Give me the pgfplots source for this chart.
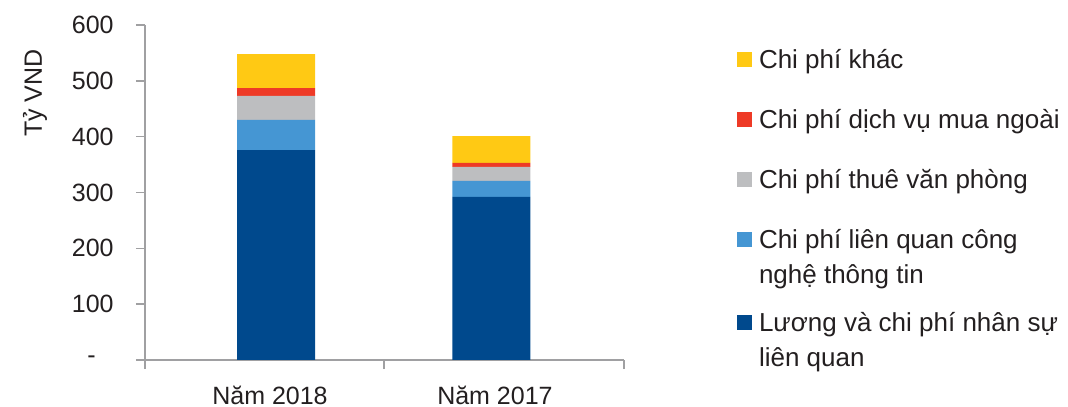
\documentclass[border=0pt]{standalone}
\usepackage{pgfplots}
\pgfplotsset{compat=1.18}
\usepackage{fontspec}
\setmainfont{Liberation Sans}
\definecolor{cDark}{HTML}{00498D}
\definecolor{cLight}{HTML}{4596D3}
\definecolor{cGray}{HTML}{BDBEC0}
\definecolor{cRed}{HTML}{EE3A26}
\definecolor{cYellow}{HTML}{FFC914}
\definecolor{cAxis}{HTML}{A0A0A2}
\definecolor{cText}{HTML}{231F20}
\newcommand{\twol}[2]{\raisebox{0pt}[\height][\dimexpr\depth-6bp\relax]{\parbox[t]{200bp}{\strut #1\\ \strut #2}}}
\begin{document}
\begin{tikzpicture}
\useasboundingbox (-72.5bp,-23.5bp) rectangle (461.5bp,180bp);
\begin{axis}[
  at={(0,0)}, anchor=south west,
  scale only axis, width=239.5bp, height=167.5bp,
  ybar stacked, bar width=39bp,
  xmin=-0.608, xmax=1.615, ymin=0, ymax=600,
  axis x line*=bottom, axis y line*=left,
  axis line style={cAxis, line width=0.8bp},
  tick style={cAxis, line width=0.8bp},
  tick align=outside, major tick length=4.5bp,
  ytick={0,100,200,300,400,500,600},
  yticklabels={{-\hspace*{9bp}},100,200,300,400,500,600},
  /pgf/number format/assume math mode=true,
  xtick={-0.608,0.5,1.615}, xticklabels={,,},
  extra x ticks={-0.028,1.016},
  extra x tick labels={Năm 2018,Năm 2017},
  extra x tick style={major tick length=0pt, xticklabel style={anchor=base, yshift=-22bp}},
  ticklabel style={font=\fontsize{12.5bp}{15bp}\selectfont, text=cText},
  yticklabel style={inner sep=0pt, anchor=east, xshift=-11bp},
  ylabel={Tỷ VND},
  every axis y label/.style={at={(rel axis cs:0,0.797)}, xshift=-55bp, rotate=90, anchor=center, font=\fontsize{12.5bp}{15bp}\selectfont, text=cText},
  legend cell align=left,
  reverse legend,
  legend style={at={(rel axis cs:1.2359,0.9418)}, anchor=north west, draw=none, fill=none,
    inner sep=0pt, outer sep=0pt, row sep=12.5bp, column sep=3.5bp,
    font=\fontsize{13bp}{17.5bp}\selectfont, text=cText,
    nodes={anchor=base west, inner sep=0pt, text depth=}},
  legend image code/.code={\fill[#1,draw=none] (0bp,1bp) rectangle (7.5bp,8.5bp);},
]
\addplot[fill=cDark, draw=none] coordinates {(0,376) (1,292)};
\addlegendentry{\twol{Lương và chi phí nhân sự}{liên quan}}
\addplot[fill=cLight, draw=none] coordinates {(0,54) (1,29)};
\addlegendentry{\twol{Chi phí liên quan công}{nghệ thông tin}}
\addplot[fill=cGray, draw=none] coordinates {(0,43) (1,25)};
\addlegendentry{\strut Chi phí thuê văn phòng}
\addplot[fill=cRed, draw=none] coordinates {(0,14) (1,7)};
\addlegendentry{\strut Chi phí dịch vụ mua ngoài}
\addplot[fill=cYellow, draw=none] coordinates {(0,61) (1,48)};
\addlegendentry{\strut Chi phí khác}
\end{axis}
\end{tikzpicture}
\end{document}
